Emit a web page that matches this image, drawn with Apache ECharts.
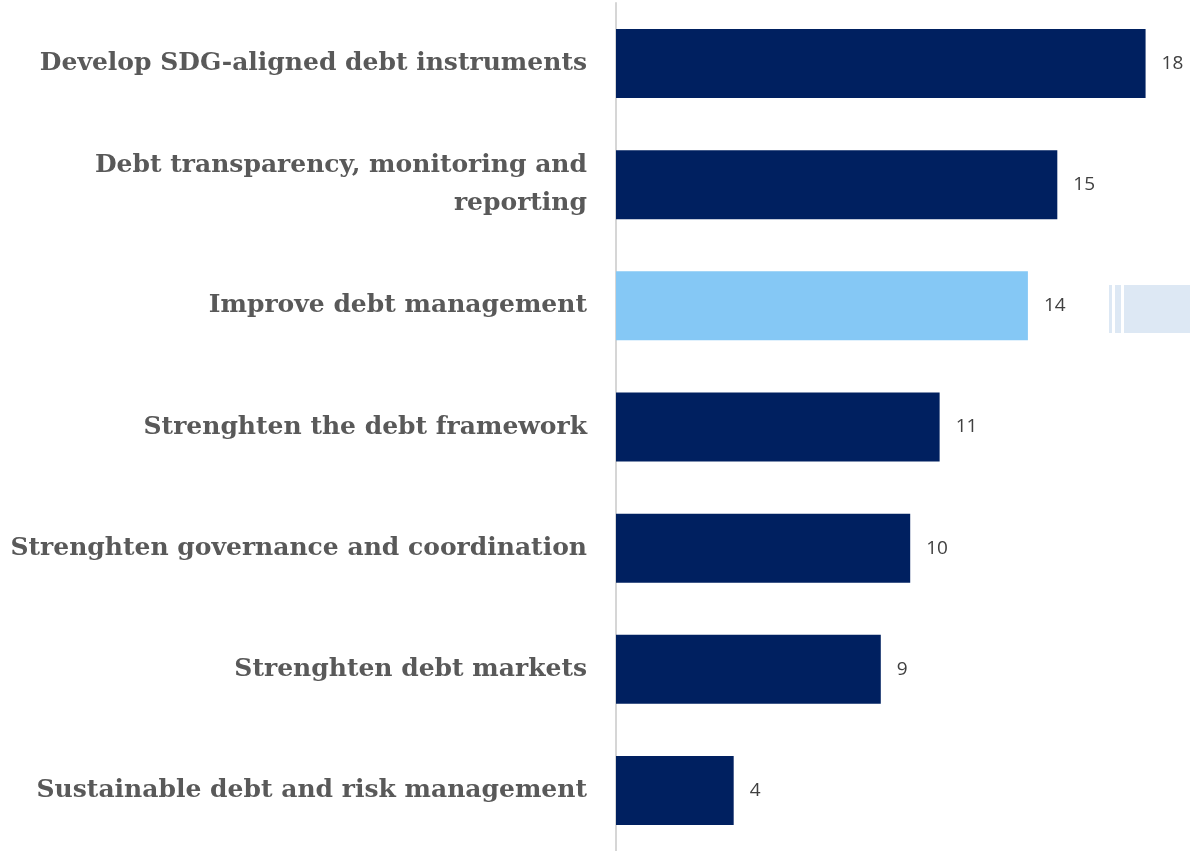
<!DOCTYPE html>
<html>
<head>
<meta charset="utf-8">
<script src="https://cdn.jsdelivr.net/npm/echarts@6/dist/echarts.min.js"></script>
<style>
  html, body { margin: 0; padding: 0; background: #ffffff; }
  #chart { width: 1190px; height: 851px; }
</style>
</head>
<body>
<div id="chart"></div>
<script>
// Actions, listed top to bottom
const categories = [
  'Develop SDG-aligned debt instruments',
  'Debt transparency, monitoring and reporting',
  'Improve debt management',
  'Strenghten the debt framework',
  'Strenghten governance and coordination',
  'Strenghten debt markets',
  'Sustainable debt and risk management'
];
const counts = [18, 15, 14, 11, 10, 9, 4];
const highlighted = 'Improve debt management';

const NAVY = '#002060';
const LIGHT = '#85C8F5';

// Long labels go on two lines, broken at the last space
function wrapLabel(text) {
  if (text.length <= 40) return text;
  const cut = text.lastIndexOf(' ');
  return text.slice(0, cut) + '\n' + text.slice(cut + 1);
}

const chart = echarts.init(document.getElementById('chart'), null, { renderer: 'canvas' });

chart.setOption({
  animation: false,
  grid: { left: 616, top: 3, width: 559, height: 848, containLabel: false, outerBoundsMode: 'none' },
  xAxis: {
    type: 'value', min: 0, max: 19,
    show: false
  },
  yAxis: {
    type: 'category',
    inverse: true,
    data: categories,
    axisLine: { show: true, lineStyle: { color: '#d6d6d6', width: 2 } },
    axisTick: { show: false },
    axisLabel: {
      margin: 29,
      color: '#595959',
      fontFamily: 'DejaVu Serif',
      fontWeight: 'bold',
      fontSize: 25,
      lineHeight: 38,
      align: 'right',
      formatter: wrapLabel
    }
  },
  series: [{
    type: 'bar',
    barWidth: 69,
    data: counts.map((v, i) => ({
      value: v,
      itemStyle: { color: categories[i] === highlighted ? LIGHT : NAVY }
    })),
    label: {
      show: true,
      position: 'right',
      distance: 16,
      color: '#404040',
      fontFamily: 'Open Sans',
      fontSize: 19
    }
  }],
  graphic: [
    { type: 'rect', shape: { x: 1109, y: 285, width: 3, height: 48 }, style: { fill: '#dde8f4' } },
    { type: 'rect', shape: { x: 1115, y: 285, width: 6, height: 48 }, style: { fill: '#dde8f4' } },
    { type: 'rect', shape: { x: 1124, y: 285, width: 66, height: 48 }, style: { fill: '#dde8f4' } }
  ]
});
</script>
</body>
</html>
